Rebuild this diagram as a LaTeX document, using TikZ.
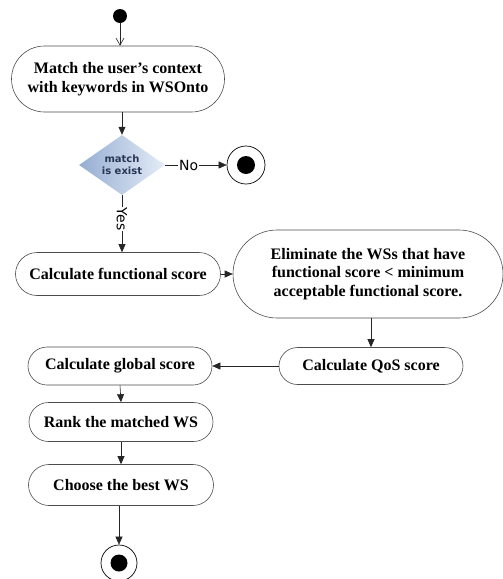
\documentclass[tikz,border=0pt]{standalone}
\usepackage{fontspec}
\setmainfont{Liberation Serif}
\setsansfont{DejaVu Sans}
\usetikzlibrary{shapes.misc,shapes.geometric,arrows.meta}
\begin{document}
\begin{tikzpicture}[x=1pt,y=-1pt,
  act/.style={rounded rectangle, draw=black!70, line width=0.6pt, fill=white, align=center,
    font=\fontsize{16}{18.5}\selectfont\bfseries, inner sep=0pt},
  flow/.style={draw=black!85, line width=0.6pt, -{Triangle[length=8pt,width=7pt]}},
  lbl/.style={font=\sffamily\fontsize{14}{16}\selectfont, fill=white, inner sep=1pt}]
\useasboundingbox (0,0) rectangle (503,579);
% start
\node[circle, fill=black, minimum size=14pt, inner sep=0pt] (start) at (120,16) {};
\node[act, minimum width=213pt, minimum height=66pt] (match) at (118,79) {Match the user's context\\with keywords in WSOnto};
\node[diamond, draw=none, left color={rgb,255:red,150;green,174;blue,210}, right color={rgb,255:red,228;green,236;blue,247},
  minimum width=86pt, minimum height=56pt, inner sep=0pt, align=center, text={rgb,255:red,40;green,55;blue,85},
  font=\sffamily\bfseries\fontsize{10}{12}\selectfont] (dec) at (122,165) {match\\is exist};
% end 1
\node[circle, draw=black, line width=0.7pt, minimum size=38pt, inner sep=0pt, fill=white] (end1) at (246,165) {};
\node[circle, fill=black, minimum size=18pt, inner sep=0pt] (end1i) at (end1) {};
\node[act, minimum width=205pt, minimum height=43pt] (func) at (118,274) {Calculate functional score};
\node[act, minimum width=270pt, minimum height=88pt] (elim) at (368,274) {Eliminate the WSs that have\\functional score \textless{} minimum\\acceptable functional score.};
\node[act, minimum width=184pt, minimum height=37pt] (qos) at (371,366) {Calculate QoS score};
\node[act, minimum width=184pt, minimum height=38pt] (glob) at (120,366) {Calculate global score};
\node[act, minimum width=184pt, minimum height=39pt] (rank) at (121,422) {Rank the matched WS};
\node[act, minimum width=185pt, minimum height=41pt] (best) at (121,485) {Choose the best WS};
\node[circle, draw=black, line width=0.7pt, minimum size=36pt, inner sep=0pt, fill=white] (end2) at (119,563) {};
\node[circle, fill=black, minimum size=17pt, inner sep=0pt] (end2i) at (end2) {};
% edges
\draw[draw=black!85, line width=0.6pt, -{Straight Barb[length=7pt,width=8pt]}] (start) -- (start|-match.north);
\draw[flow] (match.south -| dec.north) -- (dec.north);
\draw[flow] (dec.east) -- node[lbl, pos=0.38]{No} (end1.west);
\draw[flow] (dec.south) -- node[lbl, pos=0.42, rotate=-90]{Yes} (dec.south|-func.north);
\draw[flow] (func.east) -- (elim.west);
\draw[flow] (elim.south -| qos.north) -- (qos.north);
\draw[flow] (qos.west) -- (glob.east);
\draw[flow] (glob.south) -- (rank.north);
\draw[flow] (rank.south) -- (best.north);
\draw[flow] (best.south -| end2.north) -- (end2.north);
\end{tikzpicture}
\end{document}
